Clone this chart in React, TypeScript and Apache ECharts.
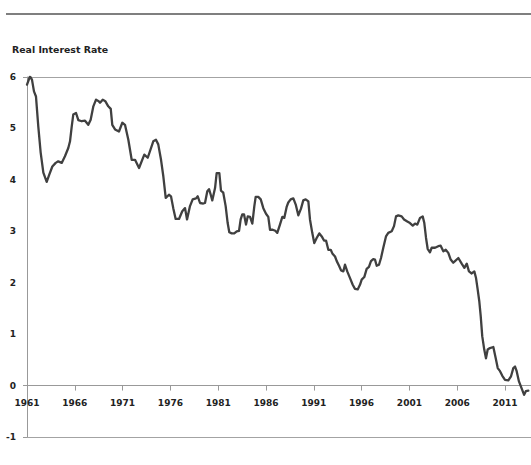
import React, { useEffect, useRef } from "react";
import * as echarts from "echarts";

const years: number[] = [
  1961.0, 1961.31, 1961.52, 1961.73, 1961.94, 1962.18, 1962.43, 1962.71, 1963.06, 1963.33,
  1963.65, 1964.0, 1964.27, 1964.63, 1964.97, 1965.32, 1965.5, 1965.68, 1965.84, 1966.13,
  1966.37, 1966.72, 1967.07, 1967.41, 1967.66, 1967.94, 1968.22, 1968.5, 1968.64, 1968.92,
  1969.19, 1969.5, 1969.76, 1969.92, 1970.21, 1970.62, 1970.97, 1971.25, 1971.6, 1971.95,
  1972.3, 1972.72, 1973.27, 1973.63, 1974.21, 1974.49, 1974.73, 1975.02, 1975.26, 1975.51,
  1975.85, 1976.06, 1976.3, 1976.55, 1976.9, 1977.24, 1977.53, 1977.74, 1978.05, 1978.33,
  1978.68, 1978.86, 1979.1, 1979.44, 1979.62, 1979.86, 1980.04, 1980.22, 1980.38, 1980.67,
  1980.84, 1981.12, 1981.29, 1981.53, 1981.78, 1981.99, 1982.16, 1982.41, 1982.68, 1982.94,
  1983.18, 1983.35, 1983.52, 1983.7, 1983.91, 1984.09, 1984.33, 1984.57, 1984.78, 1984.92,
  1985.19, 1985.45, 1985.72, 1986.0, 1986.24, 1986.42, 1986.7, 1986.97, 1987.18, 1987.46,
  1987.71, 1987.91, 1988.17, 1988.33, 1988.58, 1988.86, 1989.11, 1989.38, 1989.66, 1989.9,
  1990.15, 1990.43, 1990.6, 1990.84, 1991.05, 1991.3, 1991.58, 1991.83, 1992.07, 1992.28,
  1992.52, 1992.77, 1992.94, 1993.22, 1993.4, 1993.64, 1993.85, 1994.09, 1994.26, 1994.5,
  1994.79, 1995.07, 1995.31, 1995.59, 1995.83, 1996.01, 1996.28, 1996.53, 1996.77, 1996.98,
  1997.22, 1997.4, 1997.58, 1997.82, 1998.03, 1998.27, 1998.55, 1998.79, 1999.15, 1999.39,
  1999.6, 1999.84, 2000.19, 2000.44, 2000.78, 2001.06, 2001.35, 2001.59, 2001.83, 2002.11,
  2002.39, 2002.56, 2002.74, 2002.91, 2003.15, 2003.33, 2003.68, 2004.02, 2004.27, 2004.55,
  2004.8, 2005.07, 2005.32, 2005.59, 2005.77, 2006.12, 2006.47, 2006.75, 2007.0, 2007.23,
  2007.52, 2007.79, 2007.97, 2008.14, 2008.31, 2008.46, 2008.62, 2008.83, 2009.01, 2009.19,
  2009.43, 2009.78, 2010.03, 2010.24, 2010.48, 2010.72, 2011.0, 2011.35, 2011.63, 2011.87,
  2012.05, 2012.22, 2012.46, 2012.73, 2013.0, 2013.18, 2013.44,
];

const rates: number[] = [
  5.85, 6.01, 5.95, 5.72, 5.62, 5.04, 4.53, 4.14, 3.96, 4.1,
  4.26, 4.33, 4.36, 4.33, 4.46, 4.62, 4.75, 5.04, 5.27, 5.3,
  5.16, 5.14, 5.15, 5.07, 5.17, 5.43, 5.56, 5.53, 5.5, 5.56,
  5.53, 5.43, 5.38, 5.07, 4.98, 4.94, 5.11, 5.07, 4.78, 4.39,
  4.39, 4.23, 4.49, 4.43, 4.75, 4.78, 4.69, 4.39, 4.07, 3.65,
  3.71, 3.68, 3.45, 3.24, 3.24, 3.39, 3.45, 3.23, 3.49, 3.62,
  3.64, 3.68, 3.55, 3.54, 3.55, 3.78, 3.82, 3.71, 3.6, 3.84,
  4.13, 4.13, 3.79, 3.75, 3.49, 3.16, 2.98, 2.96, 2.96, 3.0,
  3.01, 3.23, 3.33, 3.33, 3.13, 3.29, 3.28, 3.15, 3.49, 3.67,
  3.67, 3.62, 3.45, 3.34, 3.28, 3.03, 3.03, 3.01, 2.97, 3.13,
  3.28, 3.26, 3.48, 3.56, 3.62, 3.64, 3.52, 3.31, 3.44, 3.6,
  3.62, 3.58, 3.23, 2.97, 2.77, 2.87, 2.96, 2.9, 2.82, 2.82,
  2.64, 2.64, 2.57, 2.51, 2.42, 2.33, 2.24, 2.22, 2.35, 2.22,
  2.09, 1.96, 1.88, 1.87, 1.96, 2.06, 2.11, 2.27, 2.31, 2.42,
  2.46, 2.45, 2.33, 2.35, 2.48, 2.68, 2.9, 2.97, 3.0, 3.1,
  3.29, 3.31, 3.29, 3.23, 3.19, 3.16, 3.11, 3.15, 3.13, 3.26,
  3.29, 3.16, 2.87, 2.66, 2.59, 2.68, 2.68, 2.71, 2.72, 2.61,
  2.64, 2.58, 2.45, 2.39, 2.42, 2.48, 2.37, 2.29, 2.37, 2.22,
  2.18, 2.22, 2.09, 1.87, 1.64, 1.35, 0.96, 0.7, 0.53, 0.7,
  0.73, 0.75, 0.53, 0.34, 0.28, 0.19, 0.11, 0.1, 0.18, 0.34,
  0.37, 0.28, 0.08, -0.05, -0.18, -0.11, -0.1,
];

const startYear = 1961;
const yearStep = 5;
const lastAxisYear = 2013.72;
const yMin = -1;
const yMax = 6;
const chartTitle = "Real Interest Rate";

const gridTop = 77;
const gridHeight = 360;

export default function App() {
  const ref = useRef<HTMLDivElement>(null);

  useEffect(() => {
    if (!ref.current) return;
    const chart = echarts.init(ref.current, null, { renderer: "svg" });
    const data = years.map((y, i) => [y - startYear, rates[i]]);
    const labelFont = {
      fontFamily: "DejaVu Sans",
      fontWeight: "bold" as const,
      fontSize: 9,
      color: "#222",
    };
    // move the labelled (top) x axis down onto the zero line
    const zeroOffsetFromTop = -((yMax - 0) / (yMax - yMin)) * gridHeight;
    chart.setOption({
      animation: false,
      backgroundColor: "#fff",
      graphic: [
        {
          type: "line",
          shape: { x1: 6, y1: 14, x2: 531, y2: 14 },
          style: { stroke: "#555", lineWidth: 1.5 },
        },
        {
          type: "text",
          left: 12,
          top: 45,
          style: {
            text: chartTitle,
            fontFamily: "DejaVu Sans",
            fontWeight: "bold",
            fontSize: 9.4,
            fill: "#222",
          },
        },
      ],
      grid: { left: 27, top: gridTop, right: 0, height: gridHeight, containLabel: false },
      xAxis: [
        {
          // plain bottom edge (the -1 line)
          type: "value",
          min: 0,
          max: lastAxisYear - startYear,
          position: "bottom",
          axisLine: { show: true, onZero: false, lineStyle: { color: "#a3a3a3", width: 1 } },
          axisTick: { show: false },
          axisLabel: { show: false },
          splitLine: { show: false },
        },
        {
          // year axis on the zero line
          type: "value",
          min: 0,
          max: lastAxisYear - startYear,
          interval: yearStep,
          position: "top",
          offset: zeroOffsetFromTop,
          axisLine: { show: true, onZero: false, lineStyle: { color: "#999", width: 1 } },
          axisTick: { show: true, inside: true, length: 5, lineStyle: { color: "#999" } },
          splitLine: { show: false },
          axisLabel: {
            ...labelFont,
            inside: true,
            margin: 13,
            showMaxLabel: false,
            formatter: (v: number) => String(Math.round(v + startYear)),
          },
        },
      ],
      yAxis: {
        type: "value",
        min: yMin,
        max: yMax,
        interval: 1,
        axisLine: { show: true, onZero: false, lineStyle: { color: "#999", width: 1 } },
        axisTick: { show: true, length: 4, customValues: [6, 0, -1], lineStyle: { color: "#999" } },
        splitLine: {
          show: true,
          lineStyle: { color: "#a3a3a3", width: 1 },
        },
        axisLabel: { ...labelFont, margin: 11 },
      },
      series: [
        {
          type: "line",
          xAxisIndex: 1,
          data,
          showSymbol: false,
          symbol: "none",
          smooth: false,
          lineStyle: { color: "#404040", width: 2.3, join: "round", cap: "round" },
        },
      ],
    });
    return () => chart.dispose();
  }, []);

  return (
    <div
      ref={ref}
      style={{ position: "fixed", left: 0, top: 0, width: 531, height: 465 }}
    />
  );
}
